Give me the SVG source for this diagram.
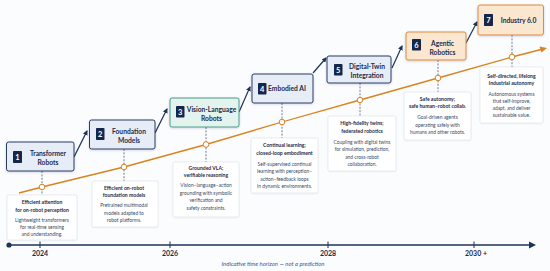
<svg xmlns="http://www.w3.org/2000/svg" width="550" height="271" viewBox="0 0 550 271">
<defs>
<marker id="ah" viewBox="0 0 10 10" refX="8" refY="5" markerWidth="5" markerHeight="5" orient="auto" markerUnits="userSpaceOnUse">
<path d="M0,0 L10,5 L0,10 z" fill="#1f3358"/>
</marker>
<filter id="sh" x="-10%" y="-10%" width="120%" height="130%">
<feDropShadow dx="0" dy="0.8" stdDeviation="0.8" flood-color="#1f3358" flood-opacity="0.18"/>
</filter>
<filter id="csh" x="-10%" y="-10%" width="120%" height="130%">
<feDropShadow dx="0" dy="0.5" stdDeviation="0.7" flood-color="#1f3358" flood-opacity="0.10"/>
</filter>
</defs>
<style>
text{font-family:Lato,"Liberation Sans",sans-serif;}
.nb{fill:#e6edf7;stroke:#2a3d63;stroke-width:1;}
.nt{fill:#e3f3ee;stroke:#4c9a88;stroke-width:1;}
.no{fill:#fbe6cf;stroke:#d98c3c;stroke-width:1;}
.bd{fill:#14264a;}
.bn{fill:#fff;font-size:7.5px;font-weight:700;text-anchor:middle;}
.nl{fill:#1c2b4a;font-size:6.7px;font-weight:700;text-anchor:middle;}
.card{fill:#ffffff;stroke:#dfe4ea;stroke-width:0.7;}
.ct{fill:#1c2b4a;font-size:5.1px;font-weight:700;text-anchor:middle;}
.cb{fill:#3b4760;font-size:4.9px;text-anchor:middle;}
.dash{stroke:#4a5a7a;stroke-width:0.8;stroke-dasharray:2 1.4;fill:none;}
.conn{stroke:#1f3358;stroke-width:1.2;fill:none;}
.dot{fill:#fff;stroke:#d9821e;stroke-width:1;}
.yr{fill:#1c2b4a;font-size:7px;font-weight:700;text-anchor:middle;}
</style>
<rect width="550" height="271" fill="#fbfcfd"/>

<!-- axis -->
<g id="axis">
<line x1="9" y1="245" x2="531" y2="245" stroke="#1f3358" stroke-width="1.4"/>
<path d="M529,241.5 L536,245 L529,248.5 z" fill="#1f3358"/>
<circle cx="9" cy="245" r="2.6" fill="#1f3358"/>
<g stroke="#1f3358" stroke-width="1">
<line x1="40" y1="241.5" x2="40" y2="248"/>
<line x1="170" y1="241.5" x2="170" y2="248"/>
<line x1="328" y1="241.5" x2="328" y2="248"/>
<line x1="474" y1="241.5" x2="474" y2="248"/>
</g>
<text class="yr" x="40" y="256">2024</text>
<text class="yr" x="170" y="256">2026</text>
<text class="yr" x="328" y="256">2028</text>
<text class="yr" x="476" y="256">2030 +</text>
<text x="273" y="266" fill="#3a5a9a" font-size="6px" font-style="italic" text-anchor="middle">Indicative time horizon — not a prediction</text>
</g>

<!-- connectors -->
<g id="connectors">
<polyline points="19,193 42,187 124,167 206,144.5 282,122 360,100 438,78 512,57 541,49.5" fill="none" stroke="#d9821e" stroke-width="1.3"/>
<path d="M539.5,46.5 L547,48 L541.5,52.5 z" fill="#d9821e"/>
<line class="dash" x1="42" y1="171" x2="42" y2="195"/>
<line class="dash" x1="124" y1="149" x2="124" y2="181"/>
<line class="dash" x1="206" y1="127" x2="206" y2="162"/>
<line class="dash" x1="282" y1="103" x2="282" y2="138"/>
<line class="dash" x1="360" y1="83" x2="360" y2="116"/>
<line class="dash" x1="438" y1="60" x2="438" y2="92"/>
<line class="dash" x1="512" y1="35" x2="512" y2="67"/>
<line class="conn" x1="74" y1="157" x2="87" y2="131" marker-end="url(#ah)"/>
<line class="conn" x1="155" y1="133" x2="167" y2="109" marker-end="url(#ah)"/>
<line class="conn" x1="239" y1="112" x2="250" y2="87" marker-end="url(#ah)"/>
<line class="conn" x1="313" y1="73" x2="326" y2="58" marker-end="url(#ah)"/>
<line class="conn" x1="392" y1="68" x2="402" y2="46" marker-end="url(#ah)"/>
<line class="conn" x1="466" y1="43" x2="477" y2="22" marker-end="url(#ah)"/>
<circle class="dot" cx="42" cy="187" r="2.8"/>
<circle class="dot" cx="124" cy="167" r="2.8"/>
<circle class="dot" cx="206" cy="144.5" r="2.8"/>
<circle class="dot" cx="282" cy="122" r="2.8"/>
<circle class="dot" cx="360" cy="100" r="2.8"/>
<circle class="dot" cx="438" cy="78" r="2.8"/>
<circle class="dot" cx="512" cy="57" r="2.8"/>
</g>

<!-- node 1 -->
<g id="node1">
<rect class="nb" x="6.5" y="142" width="67.5" height="29" rx="2" filter="url(#sh)"/>
<rect class="bd" x="13" y="151" width="9" height="12" rx="0.8"/>
<text class="bn" x="17.5" y="160">1</text>
<text class="nl" x="48" y="156">Transformer</text>
<text class="nl" x="48" y="165">Robots</text>
</g>
<g id="card1">
<rect class="card" x="7" y="195" width="70" height="45" rx="1.5" filter="url(#csh)"/>
<text class="ct" x="42" y="204">Efficient attention</text>
<text class="ct" x="42" y="211.5">for on-robot perception</text>
<text class="cb" x="42" y="221.5">Lightweight transformers</text>
<text class="cb" x="42" y="229">for real-time sensing</text>
<text class="cb" x="42" y="236.3">and understanding.</text>
</g>

<!-- node 2 -->
<g id="node2">
<rect class="nb" x="89.5" y="120" width="65.5" height="29" rx="2" filter="url(#sh)"/>
<rect class="bd" x="96" y="128" width="8.5" height="12" rx="0.8"/>
<text class="bn" x="100.3" y="137">2</text>
<text class="nl" x="129" y="134">Foundation</text>
<text class="nl" x="129" y="143">Models</text>
</g>
<g id="card2">
<rect class="card" x="92" y="181" width="66" height="46" rx="1.5" filter="url(#csh)"/>
<text class="ct" x="124" y="189.5">Efficient on-robot</text>
<text class="ct" x="124" y="197">foundation models</text>
<text class="cb" x="124" y="207.3">Pretrained multimodal</text>
<text class="cb" x="124" y="214.6">models adapted to</text>
<text class="cb" x="124" y="222">robot platforms.</text>
</g>

<!-- node 3 -->
<g id="node3">
<rect class="nt" x="170" y="98" width="69" height="29" rx="2" filter="url(#sh)"/>
<rect class="bd" x="176" y="106" width="8.5" height="11.5" rx="0.8"/>
<text class="bn" x="180.3" y="114.8">3</text>
<text class="nl" x="211.5" y="112">Vision-Language</text>
<text class="nl" x="211.5" y="121.3">Robots</text>
</g>
<g id="card3">
<rect class="card" x="173" y="162" width="66" height="55" rx="1.5" filter="url(#csh)"/>
<text class="ct" x="206" y="169.5">Grounded VLA;</text>
<text class="ct" x="206" y="177">verifiable reasoning</text>
<text class="cb" x="206" y="187">Vision–language–action</text>
<text class="cb" x="206" y="194.7">grounding with symbolic</text>
<text class="cb" x="206" y="202.3">verification and</text>
<text class="cb" x="206" y="210">safety constraints.</text>
</g>

<!-- node 4 -->
<g id="node4">
<rect class="nb" x="252" y="74" width="61" height="29" rx="2" filter="url(#sh)"/>
<rect class="bd" x="258" y="83" width="8.5" height="11.5" rx="0.8"/>
<text class="bn" x="262.3" y="91.8">4</text>
<text class="nl" x="287" y="91.2">Embodied AI</text>
</g>
<g id="card4">
<rect class="card" x="251" y="138" width="67" height="55" rx="1.5" filter="url(#csh)"/>
<text class="ct" x="284.5" y="147">Continual learning;</text>
<text class="ct" x="284.5" y="154.5">closed-loop embodiment</text>
<text class="cb" x="284.5" y="165.5">Self-supervised continual</text>
<text class="cb" x="284.5" y="173">learning with perception–</text>
<text class="cb" x="284.5" y="180.5">action–feedback loops</text>
<text class="cb" x="284.5" y="188">in dynamic environments.</text>
</g>

<!-- node 5 -->
<g id="node5">
<rect class="nb" x="327" y="56" width="64" height="27" rx="2" filter="url(#sh)"/>
<rect class="bd" x="334" y="64" width="8.5" height="11.5" rx="0.8"/>
<text class="bn" x="338.3" y="72.8">5</text>
<text class="nl" x="367" y="68.8">Digital-Twin</text>
<text class="nl" x="367" y="77.5">Integration</text>
</g>
<g id="card5">
<rect class="card" x="328" y="116" width="68" height="55" rx="1.5" filter="url(#csh)"/>
<text class="ct" x="362" y="125">High-fidelity twins;</text>
<text class="ct" x="362" y="132.5">federated robotics</text>
<text class="cb" x="362" y="143.5">Coupling with digital twins</text>
<text class="cb" x="362" y="151">for simulation, prediction,</text>
<text class="cb" x="362" y="158.5">and cross-robot</text>
<text class="cb" x="362" y="166">collaboration.</text>
</g>

<!-- node 6 -->
<g id="node6">
<rect class="no" x="406" y="32" width="60" height="28" rx="2" filter="url(#sh)"/>
<rect class="bd" x="412" y="39" width="9" height="11.5" rx="0.8"/>
<text class="bn" x="416.5" y="47.8">6</text>
<text class="nl" x="442.5" y="45.5">Agentic</text>
<text class="nl" x="442.5" y="54.8">Robotics</text>
</g>
<g id="card6">
<rect class="card" x="404" y="92" width="67" height="48" rx="1.5" filter="url(#csh)"/>
<text class="ct" x="437.5" y="100.5">Safe autonomy;</text>
<text class="ct" x="437.5" y="108">safe human–robot collab.</text>
<text class="cb" x="437.5" y="119.3">Goal-driven agents</text>
<text class="cb" x="437.5" y="126.6">operating safely with</text>
<text class="cb" x="437.5" y="134">humans and other robots.</text>
</g>

<!-- node 7 -->
<g id="node7">
<rect class="no" x="478" y="5" width="65.5" height="30" rx="2" filter="url(#sh)"/>
<rect class="bd" x="484" y="14" width="9" height="12" rx="0.8"/>
<text class="bn" x="488.5" y="23">7</text>
<text class="nl" x="518.5" y="22.8">Industry 6.0</text>
</g>
<g id="card7">
<rect class="card" x="480" y="67" width="63" height="56" rx="1.5" filter="url(#csh)"/>
<text class="ct" x="511.5" y="77.5">Self-directed, lifelong</text>
<text class="ct" x="511.5" y="85">industrial autonomy</text>
<text class="cb" x="511.5" y="95.5">Autonomous systems</text>
<text class="cb" x="511.5" y="102.7">that self-improve,</text>
<text class="cb" x="511.5" y="110">adapt, and deliver</text>
<text class="cb" x="511.5" y="117.2">sustainable value.</text>
</g>
</svg>
